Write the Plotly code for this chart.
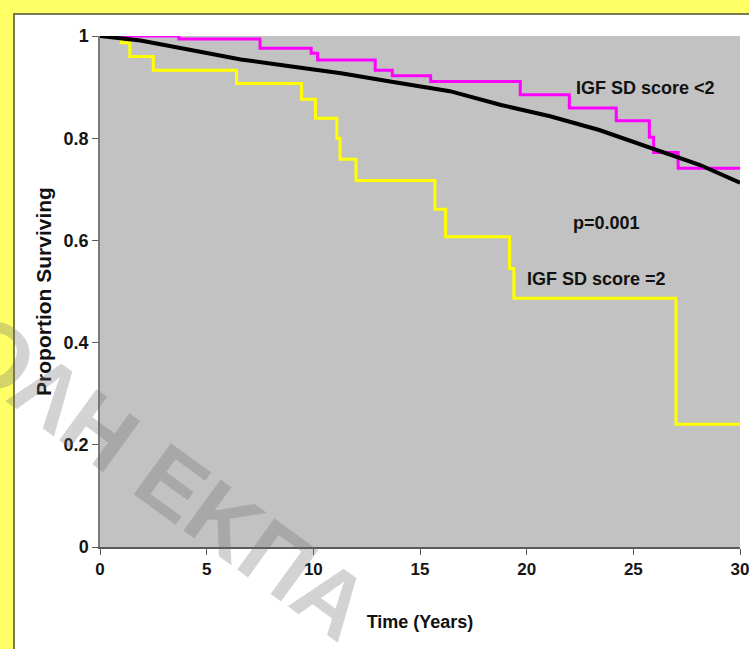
import plotly.graph_objects as go

# ---- data ----
pop_time = [0, 1.9, 4.2, 6.6, 8.9, 11.3, 13.6, 16.4, 18.8, 21.1, 23.4, 25.8, 28.1, 30]
pop_surv = [1.0, 0.991, 0.973, 0.954, 0.941, 0.927, 0.911, 0.892, 0.865, 0.843, 0.816, 0.782, 0.748, 0.713]

low_time = [0, 3.7, 7.5, 9.9, 10.2, 12.9, 13.7, 15.5, 19.7, 22.0, 24.2, 25.75, 25.95, 27.1, 30]
low_surv = [1.0, 0.994, 0.976, 0.966, 0.953, 0.933, 0.922, 0.911, 0.885, 0.859, 0.834, 0.802, 0.772, 0.741, 0.741]

high_time = [0, 1.0, 1.4, 2.5, 6.4, 9.45, 10.1, 11.1, 11.25, 12.0, 15.7, 16.2, 19.2, 19.4, 27.0, 30]
high_surv = [1.0, 0.987, 0.960, 0.933, 0.907, 0.876, 0.839, 0.800, 0.759, 0.717, 0.661, 0.607, 0.545, 0.487, 0.240, 0.240]

x_ticks = [0, 5, 10, 15, 20, 25, 30]
x_tick_labels = ["0", "5", "10", "15", "20", "25", "30"]
y_ticks = [0, 0.2, 0.4, 0.6, 0.8, 1]
y_tick_labels = ["0", "0.2", "0.4", "0.6", "0.8", "1"]

label_low = "IGF SD score <2"
label_high = "IGF SD score =2"
label_p = "p=0.001"
x_title = "Time (Years)"
y_title = "Proportion Surviving"
watermark = "ΣΧΟΛΗ ΕΚΠΑ"

FONT = "Liberation Sans, Arial, sans-serif"
W, H = 749, 649
ML, MR, MT, MB = 100, 9, 36, 102
PW, PH = W - ML - MR, H - MT - MB


def px(xp):
    return (xp - ML) / PW


def py(yp):
    return (H - MB - yp) / PH


fig = go.Figure()
fig.add_trace(go.Scatter(x=high_time, y=high_surv, mode="lines", line=dict(color="#FFFF00", width=3, shape="hv"),
                         showlegend=False, hoverinfo="skip"))
fig.add_trace(go.Scatter(x=low_time, y=low_surv, mode="lines", line=dict(color="#FF00FF", width=3, shape="hv"),
                         showlegend=False, hoverinfo="skip"))
fig.add_trace(go.Scatter(x=pop_time, y=pop_surv, mode="lines", line=dict(color="#000000", width=4),
                         showlegend=False, hoverinfo="skip"))

ann_font = dict(family=FONT, size=18, color="#111111")
fig.add_annotation(x=22.2, y=0.898, text="<b>%s</b>" % label_low, showarrow=False, xanchor="left", yanchor="middle", font=ann_font)
fig.add_annotation(x=22.1, y=0.634, text="<b>%s</b>" % label_p, showarrow=False, xanchor="left", yanchor="middle", font=ann_font)
fig.add_annotation(x=19.9, y=0.524, text="<b>%s</b>" % label_high, showarrow=False, xanchor="left", yanchor="middle", font=ann_font)

# yellow frame (left and top) with dark inner edge
fig.add_shape(type="rect", xref="paper", yref="paper", x0=px(0), x1=px(13), y0=py(H), y1=py(0),
              fillcolor="#FFFF66", line=dict(width=0), layer="above")
fig.add_shape(type="rect", xref="paper", yref="paper", x0=px(0), x1=px(W), y0=py(13), y1=py(0),
              fillcolor="#FFFF66", line=dict(width=0), layer="above")
fig.add_shape(type="line", xref="paper", yref="paper", x0=px(14), x1=px(14), y0=py(H), y1=py(13),
              line=dict(color="#7A7A50", width=2), layer="above")
fig.add_shape(type="line", xref="paper", yref="paper", x0=px(13), x1=px(W), y0=py(14), y1=py(14),
              line=dict(color="#7A7A50", width=2), layer="above")

# watermark
fig.add_annotation(xref="paper", yref="paper", x=px(116), y=py(442), text="<b>%s</b>" % watermark,
                   showarrow=False, textangle=36, xanchor="center", yanchor="middle",
                   font=dict(family=FONT, size=92, color="rgba(110,110,110,0.30)"))

fig.update_layout(
    width=W, height=H,
    margin=dict(l=ML, r=MR, t=MT, b=MB, autoexpand=False),
    paper_bgcolor="white",
    plot_bgcolor="#C2C2C2",
    showlegend=False,
    font=dict(family=FONT, color="#1a1a1a"),
)
fig.update_xaxes(range=[0, 30], tickvals=x_ticks, ticktext=["<b>%s</b>" % t for t in x_tick_labels],
                 showgrid=False, zeroline=False, showline=True, linecolor="#5A5A5A", linewidth=2,
                 ticks="outside", ticklen=6, tickcolor="#5A5A5A", tickwidth=1,
                 automargin=False, ticklabeloverflow="allow",
                 tickfont=dict(family=FONT, size=17, color="#151515"),
                 title=dict(text="<b>%s</b>" % x_title, font=dict(family=FONT, size=18, color="#111111"), standoff=37))
fig.update_yaxes(range=[0, 1], tickvals=y_ticks, ticktext=["<b>%s</b>" % t for t in y_tick_labels],
                 showgrid=False, zeroline=False, showline=True, linecolor="#7A7A7A", linewidth=1.5,
                 ticks="outside", ticklen=6, tickcolor="#5A5A5A", tickwidth=1,
                 automargin=False, ticklabeloverflow="allow",
                 tickfont=dict(family=FONT, size=18, color="#151515"),
                 title=dict(text="<b>%s</b>" % y_title, font=dict(family=FONT, size=21, color="#111111"), standoff=6))

fig.write_html("out.html", config={"displayModeBar": False},
               post_script="document.body.style.margin='0px';document.body.style.overflow='hidden';")
